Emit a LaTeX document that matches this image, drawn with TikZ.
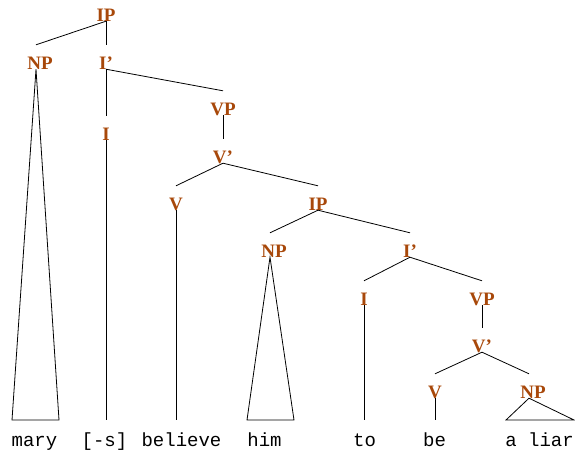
\documentclass[tikz,border=0pt]{standalone}
\usepackage{fontspec}
\setmainfont{Liberation Serif}
\setmonofont{Liberation Mono}
\definecolor{labc}{RGB}{168,72,10}
\begin{document}
\begin{tikzpicture}[x=1pt,y=-1pt,
  cat/.style={inner sep=0pt, text height=24pt, text depth=0pt, anchor=base,
    text=labc, font=\bfseries\fontsize{19}{20}\selectfont},
  word/.style={inner sep=0pt, text height=26pt, text depth=0pt, anchor=base,
    font=\ttfamily\fontsize{19}{20}\selectfont},
  edge/.style={draw=black, line width=0.8pt}]
\useasboundingbox (0,0) rectangle (575,450);
% categories
\node[cat] (ip1) at (106,21) {IP};
\node[cat] (np1) at (36,69) {\hspace{8pt}NP};
\node[cat] (ib1) at (106,69) {I'};
\node[cat] (vp1) at (223,115) {VP};
\node[cat] (i1) at (106,140) {I};
\node[cat] (vb1) at (223,163) {V'};
\node[cat] (v1) at (176,210) {V};
\node[cat] (ip2) at (318,210) {IP};
\node[cat] (np2) at (270,257) {\hspace{8pt}NP};
\node[cat] (ib2) at (410,257) {I'};
\node[cat] (i2) at (364,305) {I};
\node[cat] (vp2) at (482,305) {VP};
\node[cat] (vb2) at (482,352) {V'};
\node[cat] (v2) at (435,398) {V};
\node[cat] (np3) at (529,398) {\hspace{8pt}NP};
% words
\node[word] (w1) at (34.5,446) {mary};
\node[word] (w2) at (104.5,446) {[-s]};
\node[word] (w3) at (181.5,446) {believe};
\node[word] (w4) at (264.5,446) {him};
\node[word] (w5) at (364.5,446) {to};
\node[word] (w6) at (434.5,446) {be};
\node[word] (w7) at (539.5,446) {a liar};
% triangle bases
\coordinate (t1l) at (12,420); \coordinate (t1r) at (59,420);
\coordinate (t2l) at (247,420); \coordinate (t2r) at (294,420);
\coordinate (t3l) at (506,420); \coordinate (t3r) at (574,420);
% edges
\draw[edge] (ip1.south) -- (np1.north);
\draw[edge] (ip1.south) -- (ib1.north);
\draw[edge] (ib1.south) -- (i1.north);
\draw[edge] (ib1.south) -- (vp1.north);
\draw[edge] (vp1.south) -- (vb1.north);
\draw[edge] (vb1.south) -- (v1.north);
\draw[edge] (vb1.south) -- (ip2.north);
\draw[edge] (ip2.south) -- (np2.north);
\draw[edge] (ip2.south) -- (ib2.north);
\draw[edge] (ib2.south) -- (i2.north);
\draw[edge] (ib2.south) -- (vp2.north);
\draw[edge] (vp2.south) -- (vb2.north);
\draw[edge] (vb2.south) -- (v2.north);
\draw[edge] (vb2.south) -- (np3.north);
\draw[edge] (i1.south) -- (i1.south |- w2.north);
\draw[edge] (v1.south) -- (v1.south |- w3.north);
\draw[edge] (i2.south) -- (i2.south |- w5.north);
\draw[edge] (v2.south) -- (v2.south |- w6.north);
\draw[edge] (np1.south) -- (t1l) -- (t1r) -- cycle;
\draw[edge] (np2.south) -- (t2l) -- (t2r) -- cycle;
\draw[edge] (np3.south) -- (t3l) -- (t3r) -- cycle;
\end{tikzpicture}
\end{document}
